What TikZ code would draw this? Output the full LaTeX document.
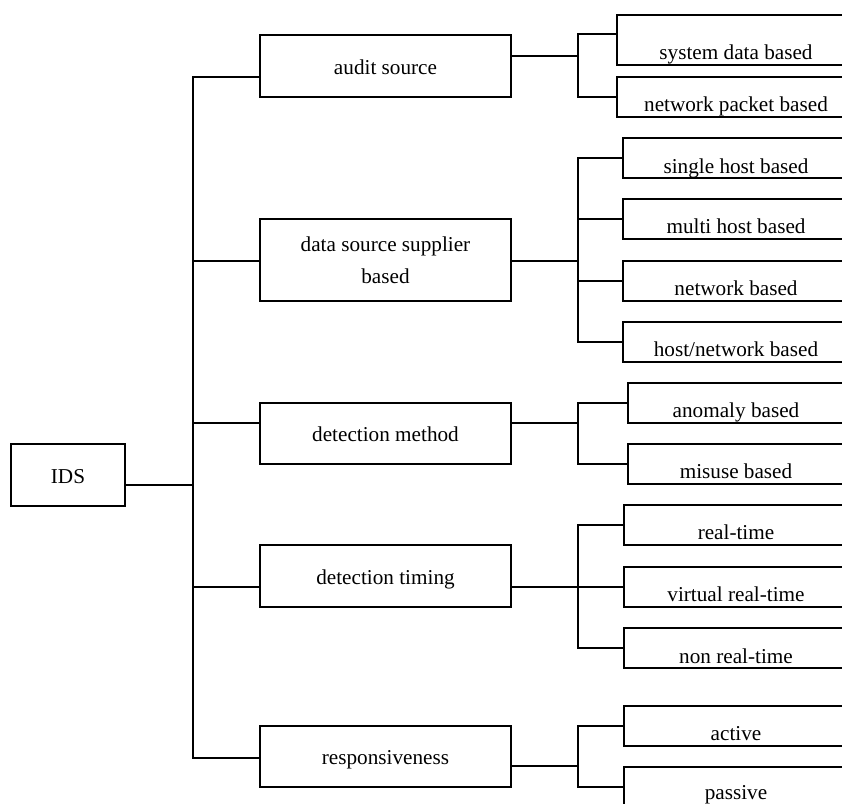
\documentclass[tikz,border=0pt]{standalone}
\usepackage{fontspec}
\setmainfont{Liberation Serif}
\begin{document}
\begin{tikzpicture}[x=1pt,y=-1pt,
  frame/.style={draw, line width=1.8pt, rectangle, inner sep=0pt,
                font=\fontsize{21.2}{32}\selectfont},
  midbox/.style={frame, minimum width=251pt, text height=16pt, text depth=0pt},
  leaf/.style={frame, text height=29pt, text depth=0pt, minimum height=40pt},
  link/.style={line width=1.8pt}]
\useasboundingbox (0,0) rectangle (842,803);
\clip (0,0) rectangle (842,803);

% root
\node[frame, minimum width=114pt, minimum height=62pt, text height=16pt, text depth=0pt] (ids) at (68,475) {IDS};

% second level
\node[midbox, minimum height=62pt] (as) at (385.5,66) {audit source};
\node[frame, align=center, minimum width=251pt, minimum height=82pt] (ds) at (385.5,260) {data source supplier\\based};
\node[midbox, minimum height=61pt] (dm) at (385.5,433.5) {detection method};
\node[midbox, minimum height=62pt] (dt) at (385.5,576) {detection timing};
\node[midbox, minimum height=61pt] (rs) at (385.5,756.5) {responsiveness};

% leaves (they run past the right edge)
\node[leaf, minimum width=238pt, minimum height=50pt, text height=38pt] (sys) at (736,40) {system data based};
\node[leaf, minimum width=238pt] (pkt) at (736,97) {network packet based};

\node[leaf, minimum width=226pt, text height=30pt] (shb) at (736,158) {single host based};
\node[leaf, minimum width=226pt] (mhb) at (736,219) {multi host based};
\node[leaf, minimum width=226pt] (nb) at (736,281) {network based};
\node[leaf, minimum width=226pt] (hnb) at (736,342) {host/network based};

\node[leaf, minimum width=216pt] (anb) at (736,403) {anomaly based};
\node[leaf, minimum width=216pt] (mub) at (736,464) {misuse based};

\node[leaf, minimum width=224pt] (rt) at (736,525) {real-time};
\node[leaf, minimum width=224pt] (vrt) at (736,587) {virtual real-time};
\node[leaf, minimum width=224pt, text height=30pt] (nrt) at (736,648) {non real-time};

\node[leaf, minimum width=224pt] (act) at (736,726) {active};
\node[leaf, minimum width=224pt, text height=25pt] (pas) at (736,787) {passive};

% main trunk
\coordinate (ta) at (193,77);
\coordinate (td) at (193,261);
\coordinate (tm) at (193,423);
\coordinate (t0) at (193,485);
\coordinate (tt) at (193,587);
\coordinate (tr) at (193,758);
\draw[link] (as.west |- ta) -- (ta) -- (tr) -- (rs.west |- tr);
\draw[link] (ds.west |- td) -- (td);
\draw[link] (dm.west |- tm) -- (tm);
\draw[link] (dt.west |- tt) -- (tt);
\draw[link] (ids.east |- t0) -- (t0);

% branch trunks
\coordinate (sa) at (578,56);
\draw[link] (as.east |- sa) -- (sa);
\draw[link] ([yshift=6pt]sys.west) -| (sa) |- (pkt.west);

\coordinate (sd) at (578,261);
\draw[link] (ds.east |- sd) -- (sd);
\draw[link] (shb.west) -| (sd) |- (hnb.west);
\draw[link] (mhb.west) -- (mhb.west -| sd);
\draw[link] (nb.west) -- (nb.west -| sd);

\coordinate (sm) at (578,423);
\draw[link] (dm.east |- sm) -- (sm);
\draw[link] (anb.west) -| (sm) |- (mub.west);

\coordinate (st) at (578,587);
\draw[link] (dt.east |- st) -- (st);
\draw[link] (rt.west) -| (st) |- (nrt.west);
\draw[link] (vrt.west) -- (st);

\coordinate (sr) at (578,766);
\draw[link] (rs.east |- sr) -- (sr);
\draw[link] (act.west) -| (sr) |- (pas.west);
\end{tikzpicture}
\end{document}
